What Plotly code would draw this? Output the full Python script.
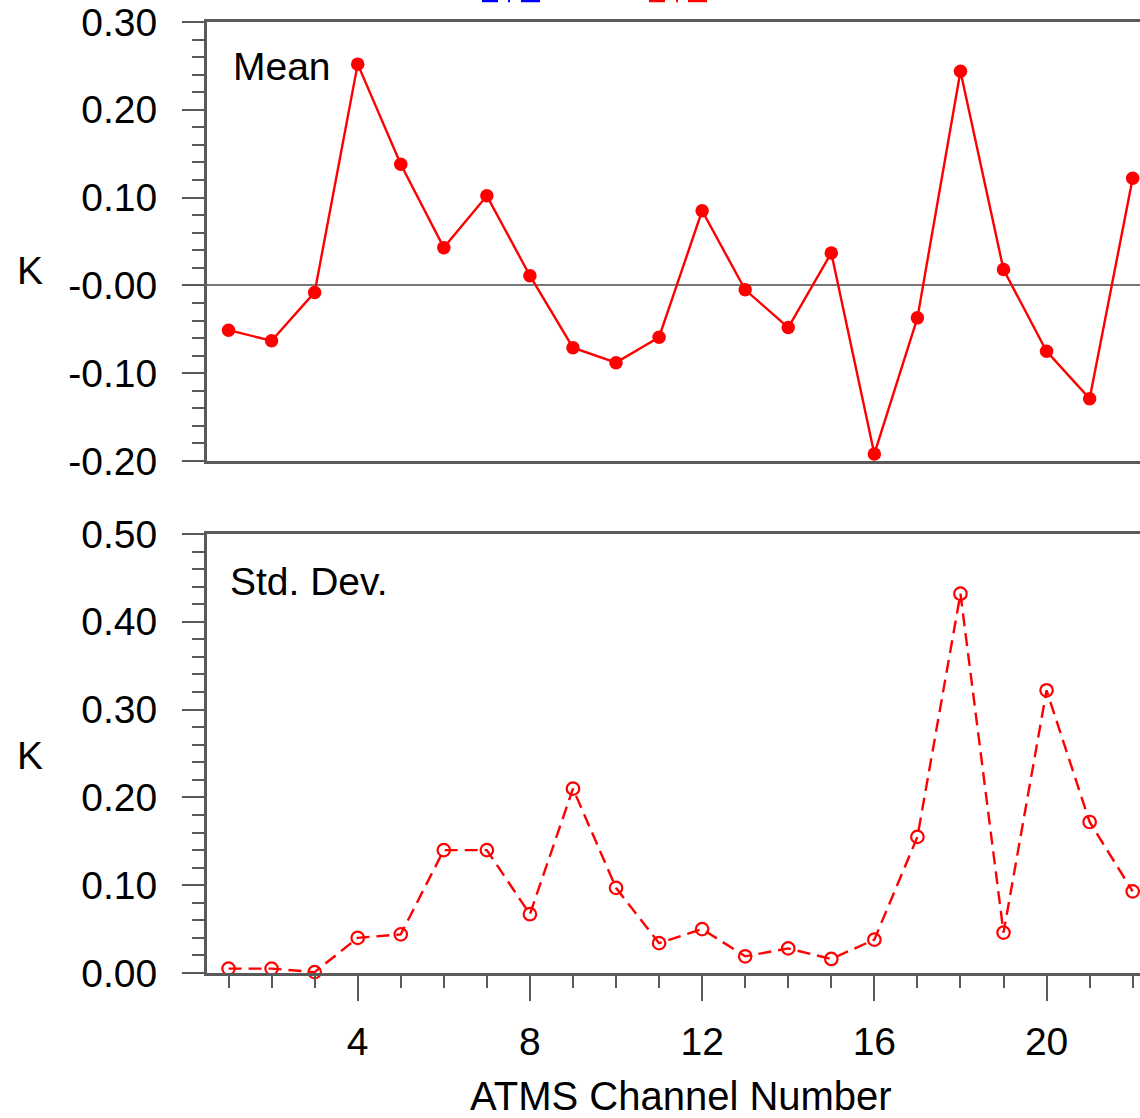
import plotly.graph_objects as go

channels = list(range(1, 23))
mean_vals = [-0.051, -0.063, -0.008, 0.252, 0.138, 0.043, 0.102, 0.011, -0.071, -0.088,
             -0.059, 0.085, -0.005, -0.048, 0.037, -0.192, -0.037, 0.244, 0.018, -0.075,
             -0.129, 0.122]
std_vals = [0.005, 0.005, 0.001, 0.040, 0.044, 0.140, 0.140, 0.067, 0.210, 0.097,
            0.034, 0.050, 0.019, 0.028, 0.016, 0.038, 0.155, 0.432, 0.046, 0.322,
            0.172, 0.093]

mean_ticks = [0.30, 0.20, 0.10, 0.0, -0.10, -0.20]
mean_ticktext = ["0.30", "0.20", "0.10", "-0.00", "-0.10", "-0.20"]
std_ticks = [0.0, 0.10, 0.20, 0.30, 0.40, 0.50]
std_ticktext = ["0.00", "0.10", "0.20", "0.30", "0.40", "0.50"]
x_ticks = [4, 8, 12, 16, 20]

FONT = "Liberation Sans, Arial, Helvetica, sans-serif"
AX = "#5a5a5a"
RED = "#ff0000"
L = 207
PW = 1140 - L

fig = go.Figure()
fig.add_trace(go.Scatter(x=channels, y=mean_vals, mode="lines+markers",
                         line=dict(color=RED, width=2.4),
                         marker=dict(color=RED, size=13.5, symbol="circle"),
                         xaxis="x", yaxis="y", cliponaxis=False, showlegend=False))
fig.add_trace(go.Scatter(x=channels, y=std_vals, mode="lines+markers",
                         line=dict(color=RED, width=2.4, dash="13px,7px"),
                         marker=dict(color=RED, size=12.5, symbol="circle-open",
                                     line=dict(color=RED, width=2.2)),
                         xaxis="x2", yaxis="y2", cliponaxis=False, showlegend=False))

xr = [0.5, 22.17]
yax_common = dict(showline=True, linecolor=AX, linewidth=3, mirror=False,
                  ticks="outside", ticklen=22, tickwidth=2, tickcolor=AX,
                  showgrid=False, tickfont=dict(family=FONT, size=39, color="black"),
                  ticklabelstandoff=17,
                  minor=dict(ticks="outside", ticklen=12, tickwidth=2, tickcolor=AX, dtick=0.02, showgrid=False))

fig.update_layout(
    width=1140, height=1118,
    margin=dict(l=L, r=0, t=22, b=145),
    paper_bgcolor="white", plot_bgcolor="white",
    xaxis=dict(domain=[0, 1], range=xr, anchor="y", showline=True, mirror=True,
               linecolor=AX, linewidth=3, ticks="", showticklabels=False,
               showgrid=False, zeroline=False),
    yaxis=dict(domain=[0.5384, 1.0], range=[-0.2, 0.3], anchor="x",
               tickvals=mean_ticks, ticktext=mean_ticktext,
               zeroline=True, zerolinecolor="#777777", zerolinewidth=1.5, tick0=0,
               **yax_common),
    xaxis2=dict(domain=[0, 1], range=xr, anchor="y2", showline=True, mirror=True,
                linecolor=AX, linewidth=3, ticks="outside", ticklen=25, tickwidth=2,
                tickcolor=AX, tickvals=x_ticks, ticktext=[str(v) for v in x_ticks],
                tickfont=dict(family=FONT, size=39, color="black"),
                ticklabelstandoff=7, showgrid=False, zeroline=False,
                minor=dict(ticks="outside", ticklen=12, tickwidth=2, tickcolor=AX,
                           dtick=1, tick0=0, showgrid=False)),
    yaxis2=dict(domain=[0, 0.4616], range=[0, 0.5], anchor="x2",
                tickvals=std_ticks, ticktext=std_ticktext, zeroline=False, tick0=0,
                **yax_common),
)

ann_font = dict(family=FONT, size=39, color="black")
fig.add_annotation(text="Mean", xref="x domain", yref="y domain", x=0.026, y=0.8975,
                   xanchor="left", yanchor="middle", showarrow=False, font=ann_font)
fig.add_annotation(text="Std. Dev.", xref="x2 domain", yref="y2 domain", x=0.022, y=0.8907,
                   xanchor="left", yanchor="middle", showarrow=False, font=ann_font)
fig.add_annotation(text="K", xref="paper", yref="y domain", x=(30 - L) / PW, y=0.435,
                   xanchor="center", yanchor="middle", showarrow=False, font=ann_font)
fig.add_annotation(text="K", xref="paper", yref="y2 domain", x=(30 - L) / PW, y=0.4966,
                   xanchor="center", yanchor="middle", showarrow=False, font=ann_font)
fig.add_annotation(text="ATMS Channel Number", xref="paper", yref="paper",
                   x=(680.5 - L) / PW, y=(973 - 1096) / 951,
                   xanchor="center", yanchor="middle", showarrow=False,
                   font=dict(family=FONT, size=40, color="black"))

# cropped legend fragments at top edge
frag_y = (973 - 1) / 951
for (x0, x1, c) in [(482, 498, "blue"), (521, 540, "blue"), (508, 510, "blue"),
                    (649, 665, RED), (676, 678, RED), (688, 707, RED)]:
    fig.add_shape(type="line", xref="paper", yref="paper",
                  x0=(x0 - L) / PW, x1=(x1 - L) / PW, y0=frag_y, y1=frag_y,
                  line=dict(color=c, width=2.5))

fig.write_html("out.html", config={"displayModeBar": False},
               post_script="document.body.style.margin='0';")
